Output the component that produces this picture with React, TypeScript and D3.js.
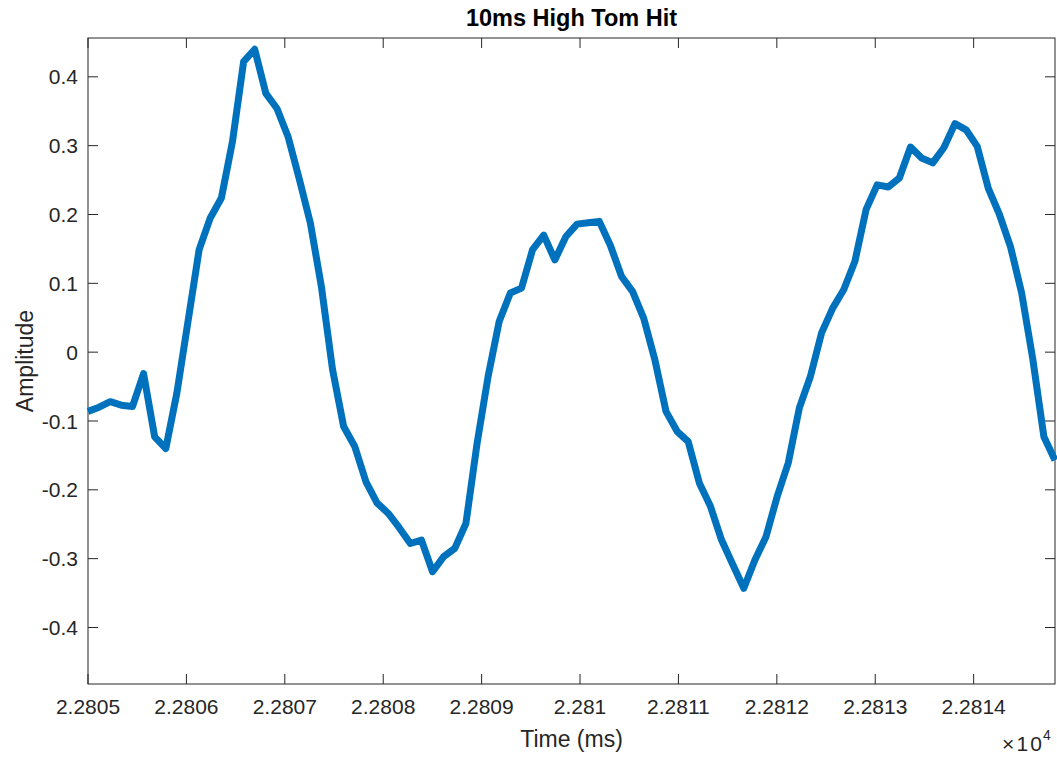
import React from "react";
import * as d3 from "d3";

// Amplitude samples of the tom hit (one every SAMPLE_PERIOD_MS, starting at START_MS)
const amplitude: number[] = [
  -0.086, -0.080, -0.072, -0.077, -0.079, -0.031, -0.123, -0.140, -0.059, 0.045,
  0.149, 0.195, 0.224, 0.306, 0.422, 0.440, 0.376, 0.354, 0.313, 0.252,
  0.188, 0.095, -0.025, -0.108, -0.137, -0.188, -0.219, -0.234, -0.255, -0.278,
  -0.273, -0.319, -0.297, -0.285, -0.249, -0.133, -0.035, 0.045, 0.086, 0.093,
  0.149, 0.170, 0.134, 0.168, 0.186, 0.188, 0.190, 0.155, 0.110, 0.088,
  0.049, -0.011, -0.086, -0.115, -0.130, -0.190, -0.224, -0.273, -0.308, -0.343,
  -0.302, -0.268, -0.210, -0.161, -0.081, -0.035, 0.028, 0.064, 0.091, 0.132,
  0.207, 0.243, 0.240, 0.253, 0.298, 0.282, 0.275, 0.297, 0.332, 0.323,
  0.299, 0.238, 0.200, 0.153, 0.086, -0.010, -0.123, -0.157,
];

const START_MS = 22805;
const SAMPLE_PERIOD_MS = 0.11295;

const xTicks: number[] = [22805, 22806, 22807, 22808, 22809, 22810, 22811, 22812, 22813, 22814];
const yTicks: number[] = [-0.4, -0.3, -0.2, -0.1, 0, 0.1, 0.2, 0.3, 0.4];
const yDomain: [number, number] = [-0.4821, 0.4564];

const W = 1057;
const H = 759;
const plot = { left: 88, right: 1055, top: 38, bottom: 684 };
const FONT = "'Liberation Sans', Arial, Helvetica, sans-serif";
const AXIS = "#262626";
const LINE = "#0072BD";
const TICK = 10;

export default function App() {
  const times = amplitude.map((_, i) => START_MS + i * SAMPLE_PERIOD_MS);
  const pts: [number, number][] = amplitude.map((v, i) => [times[i], v]);

  const x = d3
    .scaleLinear()
    .domain([START_MS, times[times.length - 1]])
    .range([plot.left, plot.right]);
  const y = d3.scaleLinear().domain(yDomain).range([plot.bottom, plot.top]);

  const line = d3
    .line<[number, number]>()
    .x((d) => x(d[0]))
    .y((d) => y(d[1]));

  const fmtX = (t: number) => String(+(t / 1e4).toFixed(4));
  const fmtY = (v: number) => (v === 0 ? "0" : v.toFixed(1));

  return (
    <svg
      width={W}
      height={H}
      style={{ position: "absolute", left: 0, top: 0, background: "#fff" }}
      fontFamily={FONT}
    >
      <rect x={0} y={0} width={W} height={H} fill="#fff" />

      {/* box */}
      <rect
        x={plot.left}
        y={plot.top}
        width={plot.right - plot.left}
        height={plot.bottom - plot.top}
        fill="none"
        stroke={AXIS}
        strokeWidth={1}
      />

      {/* x ticks, bottom and top */}
      {xTicks.map((t) => (
        <g key={"x" + t}>
          <line x1={x(t)} x2={x(t)} y1={plot.bottom} y2={plot.bottom - TICK} stroke={AXIS} />
          <line x1={x(t)} x2={x(t)} y1={plot.top} y2={plot.top + TICK} stroke={AXIS} />
          <text x={x(t)} y={714} textAnchor="middle" fontSize={21} fill={AXIS}>
            {fmtX(t)}
          </text>
        </g>
      ))}

      {/* y ticks, left and right */}
      {yTicks.map((v) => (
        <g key={"y" + v}>
          <line x1={plot.left} x2={plot.left + TICK} y1={y(v)} y2={y(v)} stroke={AXIS} />
          <line x1={plot.right} x2={plot.right - TICK} y1={y(v)} y2={y(v)} stroke={AXIS} />
          <text
            x={78}
            y={y(v)}
            dy="0.36em"
            textAnchor="end"
            fontSize={21}
            fill={AXIS}
          >
            {fmtY(v)}
          </text>
        </g>
      ))}

      {/* waveform */}
      <path
        d={line(pts) ?? ""}
        fill="none"
        stroke={LINE}
        strokeWidth={7}
        strokeLinejoin="round"
        strokeLinecap="butt"
      />

      {/* title and labels */}
      <text
        x={(plot.left + plot.right) / 2}
        y={26}
        textAnchor="middle"
        fontSize={23.5}
        fontWeight="bold"
        fill="#000"
      >
        10ms High Tom Hit
      </text>
      <text
        x={(plot.left + plot.right) / 2}
        y={747}
        textAnchor="middle"
        fontSize={23}
        fill={AXIS}
      >
        Time (ms)
      </text>
      <text
        transform={`translate(33, ${(plot.top + plot.bottom) / 2}) rotate(-90)`}
        textAnchor="middle"
        fontSize={23}
        fill={AXIS}
      >
        Amplitude
      </text>

      {/* axis exponent */}
      <text x={1002} y={751} fontSize={21} fill={AXIS} textLength={40} lengthAdjust="spacing">
        ×10
      </text>
      <text x={1043} y={740} fontSize={14} fill={AXIS}>
        4
      </text>
    </svg>
  );
}
